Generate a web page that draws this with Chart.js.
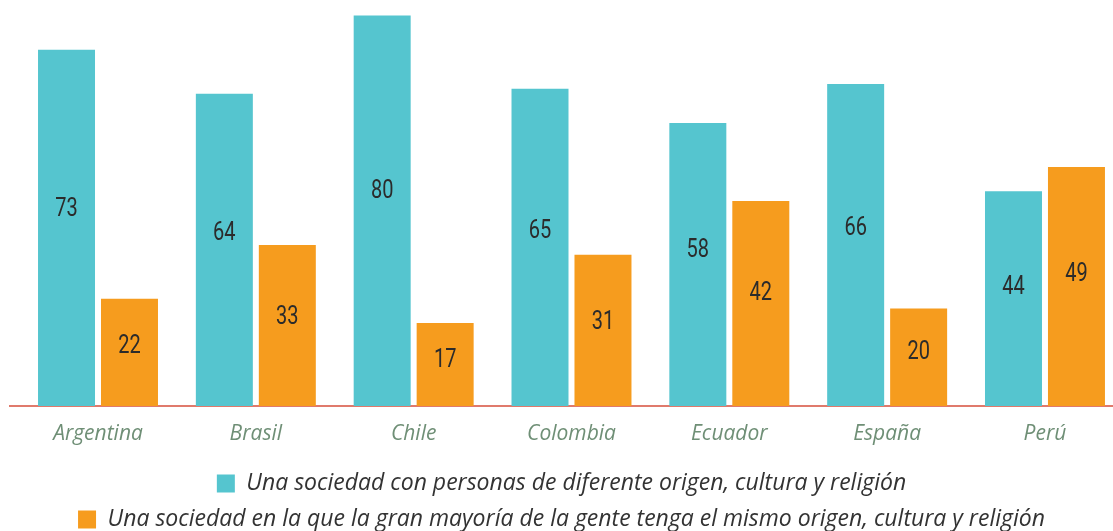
<!DOCTYPE html>
<html>
<head>
<meta charset="utf-8">
<script src="https://cdn.jsdelivr.net/npm/chart.js@4/dist/chart.umd.min.js"></script>
<style>
  html, body { margin: 0; padding: 0; background: #fff; }
  #wrap { width: 1113px; height: 531px; position: relative; }
</style>
</head>
<body>
<div id="wrap"><canvas id="chart" width="1113" height="531"></canvas></div>
<script>
// data
const countries = ['Argentina', 'Brasil', 'Chile', 'Colombia', 'Ecuador', 'España', 'Perú'];
const diversa = [73, 64, 80, 65, 58, 66, 44];
const mismoOrigen = [22, 33, 17, 31, 42, 20, 49];
const seriesNames = [
  'Una sociedad con personas de diferente origen, cultura y religión',
  'Una sociedad en la que la gran mayoría de la gente tenga el mismo origen, cultura y religión'
];

const TEAL = '#55c5cf', ORANGE = '#f69c1e';
const LABEL_AT = 0.55; // value label sits a bit above the bar middle

const toPoints = arr => arr.map((v, i) => ({ x: i, y: v }));

// numbers inside the bars, condensed look by squeezing the glyphs
const valueLabels = {
  id: 'valueLabels',
  afterDatasetsDraw(chart) {
    const ctx = chart.ctx;
    chart.data.datasets.forEach((ds, di) => {
      chart.getDatasetMeta(di).data.forEach((bar, i) => {
        const y = bar.base - (bar.base - bar.y) * LABEL_AT;
        ctx.save();
        ctx.translate(bar.x, y);
        ctx.scale(0.8, 1);
        ctx.font = '25px Roboto, sans-serif';
        ctx.fillStyle = '#2b2b2b';
        ctx.textAlign = 'center';
        ctx.textBaseline = 'middle';
        ctx.fillText(String(ds.data[i].y), 0, 0);
        ctx.restore();
      });
    });
  }
};

new Chart(document.getElementById('chart'), {
  type: 'bar',
  data: {
    datasets: [
      { label: seriesNames[0], data: toPoints(diversa), backgroundColor: TEAL },
      { label: seriesNames[1], data: toPoints(mismoOrigen), backgroundColor: ORANGE }
    ]
  },
  options: {
    responsive: false,
    animation: false,
    layout: { padding: { left: 10, right: 0, top: 0, bottom: -10 } },
    datasets: { bar: { categoryPercentage: 0.798, barPercentage: 0.905 } },
    scales: {
      x: {
        type: 'linear',
        offset: false,
        min: -0.5576,
        max: 6.431,
        afterBuildTicks: s => { s.ticks = countries.map((c, i) => ({ value: i })); },
        afterFit: s => { s.height = 53; },
        grid: { display: false, drawTicks: false },
        border: { color: '#e07a6c', width: 2 },
        ticks: {
          padding: 15,
          color: '#6f8f76',
          font: { family: '"Open Sans", sans-serif', size: 21, style: 'italic' },
          callback: v => countries[v] ?? ''
        }
      },
      y: {
        display: false,
        min: 0,
        max: 83.2
      }
    },
    plugins: {
      tooltip: { enabled: false },
      legend: {
        position: 'bottom',
        labels: {
          boxWidth: 18,
          boxHeight: 18,
          padding: 13,
          color: '#333',
          font: { family: '"Open Sans", sans-serif', size: 23, style: 'italic' }
        }
      }
    }
  },
  plugins: [valueLabels]
});
</script>
</body>
</html>
